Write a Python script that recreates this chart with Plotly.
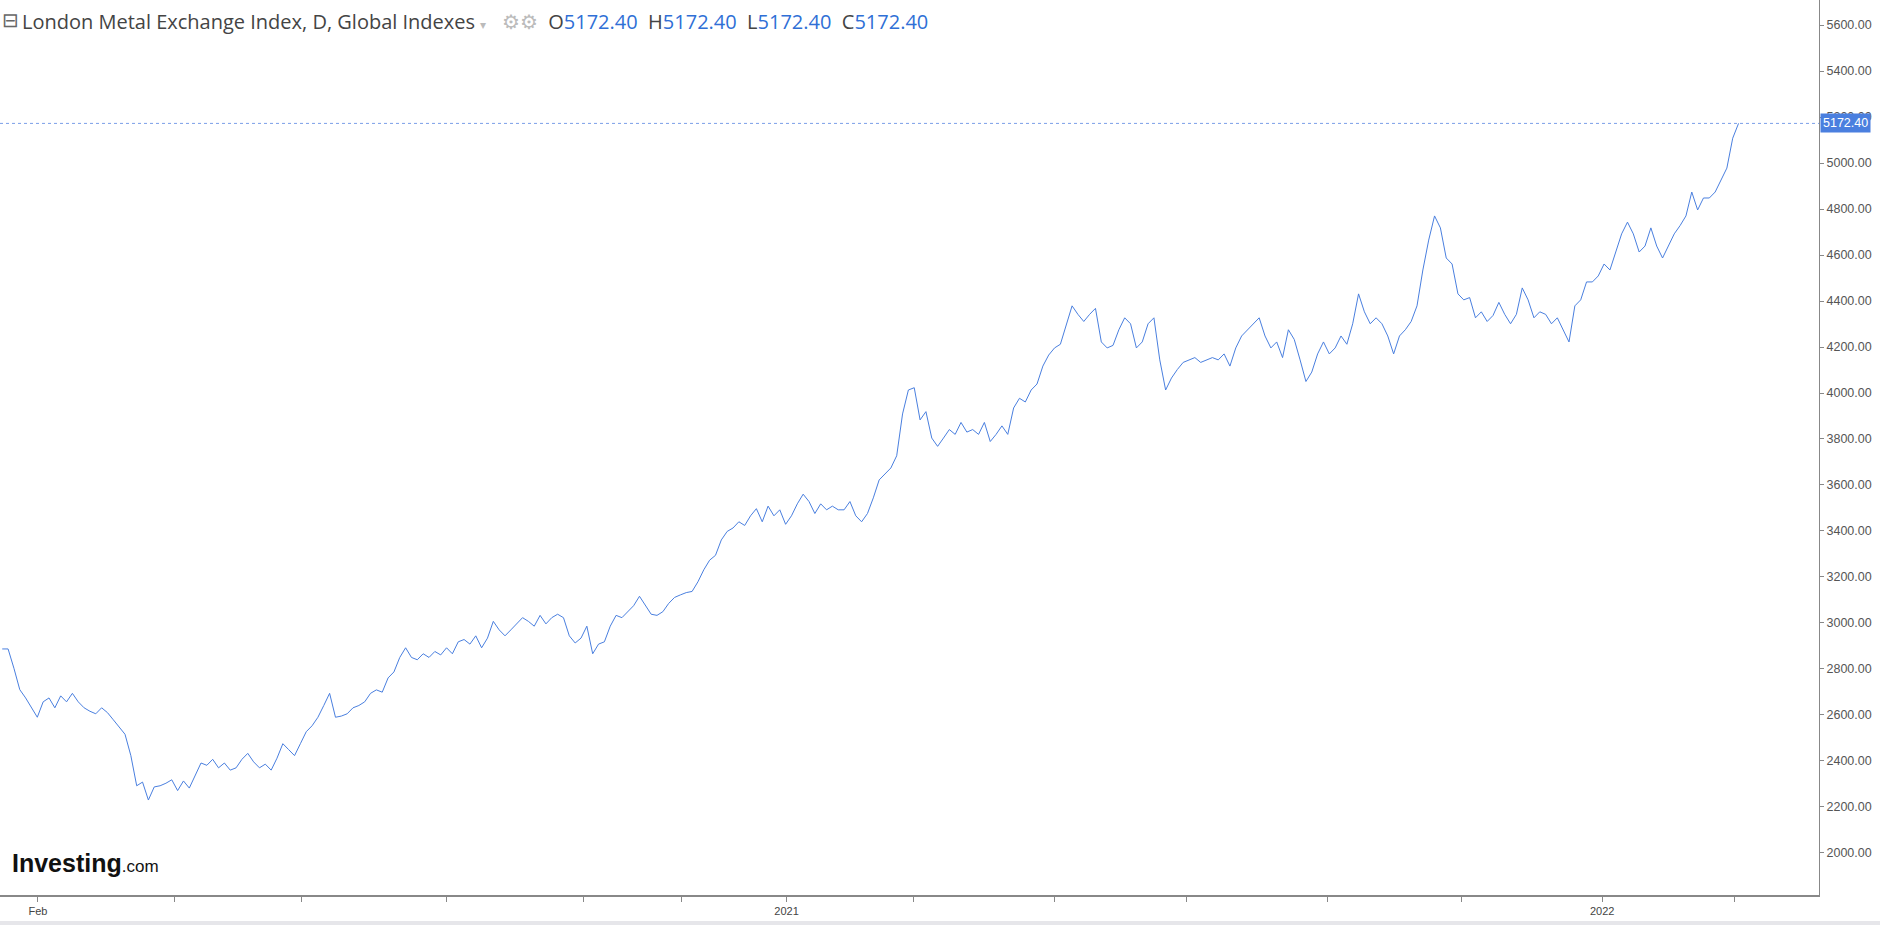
import pandas as pd
import plotly.graph_objects as go

values = [2887,2887,2803,2710,2674,2631,2590,2657,2674,2631,2683,2657,2694,2657,2631,2616,2605,2631,2610,2579,2548,2516,2423,2292,2308,2230,2287,2292,2303,2318,2271,2313,2282,2339,2391,2381,2407,2370,2391,2360,2370,2407,2433,2396,2370,2386,2360,2412,2475,2449,2423,2475,2527,2553,2590,2641,2694,2590,2595,2605,2631,2641,2657,2694,2709,2699,2761,2787,2850,2892,2850,2840,2866,2850,2876,2861,2892,2866,2918,2928,2908,2944,2892,2934,3007,2970,2944,2970,2996,3023,3007,2986,3033,2996,3023,3038,3023,2944,2913,2934,2986,2866,2908,2918,2986,3033,3023,3049,3075,3116,3075,3038,3033,3049,3085,3111,3122,3132,3137,3179,3231,3273,3294,3361,3398,3413,3440,3424,3466,3497,3440,3508,3466,3492,3429,3466,3518,3560,3528,3476,3518,3492,3508,3492,3492,3528,3466,3440,3476,3544,3622,3648,3674,3727,3909,4013,4023,3883,3919,3804,3768,3804,3841,3820,3872,3830,3841,3820,3872,3789,3820,3857,3820,3935,3977,3961,4013,4039,4117,4165,4196,4212,4301,4379,4342,4311,4342,4368,4222,4196,4207,4275,4327,4301,4196,4222,4301,4327,4144,4013,4065,4102,4133,4144,4154,4133,4144,4154,4144,4170,4117,4196,4248,4275,4301,4327,4248,4196,4222,4154,4275,4233,4144,4050,4091,4170,4222,4170,4196,4248,4212,4301,4431,4353,4301,4327,4301,4248,4170,4248,4275,4311,4379,4535,4665,4770,4718,4587,4561,4431,4405,4415,4327,4353,4311,4337,4394,4342,4301,4342,4457,4405,4327,4353,4342,4301,4327,4275,4222,4379,4405,4483,4483,4509,4561,4535,4613,4692,4743,4692,4613,4639,4718,4639,4587,4639,4692,4728,4770,4874,4796,4848,4848,4874,4926,4978,5108,5172.4]
dates = pd.date_range("2020-01-16", "2022-03-03", periods=len(values))
tick_dates = ["2020-02-01","2020-04-02","2020-05-29","2020-08-02","2020-10-02","2020-11-15","2021-01-01",
              "2021-02-27","2021-05-01","2021-06-29","2021-08-31","2021-10-30","2022-01-01","2022-03-01"]
tick_text = ["Feb","","","","","","2021","","","","","","2022",""]
y_ticks = [2000,2200,2400,2600,2800,3000,3200,3400,3600,3800,4000,4200,4400,4600,4800,5000,5200,5400,5600]
last = 5172.40
blue = "#4a7fdf"
H_PLOT = 925 - 30

fig = go.Figure()
fig.add_trace(go.Scatter(x=dates, y=values, mode="lines", line=dict(color=blue, width=1), hoverinfo="skip"))
fig.add_hline(y=last, line=dict(color="#7a9ee8", width=1, dash="dot"))
fig.update_layout(
    width=1880, height=925, paper_bgcolor="white", plot_bgcolor="white",
    margin=dict(l=0, r=61, t=0, b=30, autoexpand=False), showlegend=False,
    font=dict(family="Liberation Sans, Arial", size=12, color="#555"),
    xaxis=dict(range=["2020-01-15","2022-04-08"], tickvals=tick_dates, ticktext=tick_text,
               showgrid=False, zeroline=False, showline=True, linecolor="#888", linewidth=2,
               ticks="outside", ticklen=5, tickcolor="#888", tickfont=dict(size=11, color="#444")),
    yaxis=dict(range=[1817,5709], side="right", tickvals=y_ticks, ticktext=[f"{v:.2f}" for v in y_ticks],
               showgrid=False, zeroline=False, showline=True, linecolor="#888", linewidth=1,
               ticks="outside", ticklen=4, tickcolor="#888", tickfont=dict(size=12.5, color="#555")),
)
fig.add_annotation(x=1, xref="paper", y=last, yref="y", text="5172.40", showarrow=False,
                   xanchor="left", xshift=1, bgcolor=blue, font=dict(color="white", size=12.5), borderpad=2)
fig.add_annotation(x=0, xref="paper", y=1, yref="paper", xanchor="left", yanchor="top", xshift=20, yshift=-6,
                   showarrow=False, font=dict(family="Open Sans, Liberation Sans", size=20, color="#444"),
                   text="London Metal Exchange Index, D, Global Indexes <span style='color:#bbb;font-size:12px'>▾</span>"
                        "   <span style='color:#bbb'>⚙⚙</span>  O<span style='color:#2f6fd6'>5172.40</span>"
                        "  H<span style='color:#2f6fd6'>5172.40</span>  L<span style='color:#2f6fd6'>5172.40</span>"
                        "  C<span style='color:#2f6fd6'>5172.40</span>")
fig.add_annotation(x=0, xref="paper", y=1, yref="paper", xanchor="left", yanchor="top", xshift=0, yshift=-7,
                   showarrow=False, text="⊟", font=dict(size=20, color="#666"))
fig.add_annotation(x=0, xref="paper", y=0, yref="paper", xanchor="left", yanchor="bottom", xshift=10, yshift=16,
                   showarrow=False, text="<b>Investing</b><span style='font-size:17px'>.com</span>",
                   font=dict(family="Liberation Sans Narrow, Liberation Sans", size=25, color="#111"))
fig.add_shape(type="rect", xref="paper", yref="paper", x0=-0.01, x1=1.05, y0=-26/H_PLOT, y1=-31/H_PLOT,
              fillcolor="#e6e6ea", line=dict(width=0), layer="below")
fig.write_html("out.html", config={"displayModeBar": False},
               post_script="document.body.style.margin='0';document.body.style.overflow='hidden';")
